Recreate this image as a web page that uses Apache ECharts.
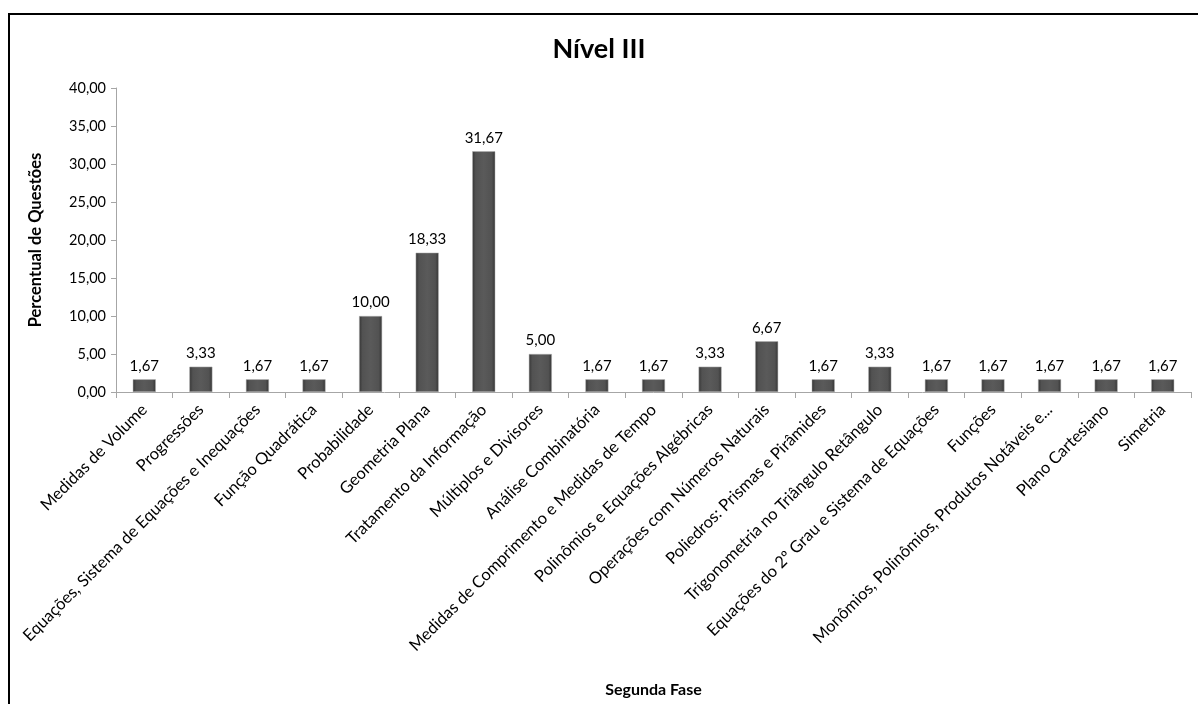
<!DOCTYPE html>
<html>
<head>
<meta charset="utf-8">
<script src="https://cdn.jsdelivr.net/npm/echarts@6/dist/echarts.min.js"></script>
<style>
  html, body { margin: 0; padding: 0; background: #fff; }
  #chart { width: 1198px; height: 704px; }
</style>
</head>
<body>
<div id="chart"></div>
<script>
// categories (Excel cut the long one with "...")
let categories = [
    'Medidas de Volume',
    'Progressões',
    'Equações, Sistema de Equações e Inequações',
    'Função Quadrática',
    'Probabilidade',
    'Geometria Plana',
    'Tratamento da Informação',
    'Múltiplos e Divisores',
    'Análise Combinatória',
    'Medidas de Comprimento e Medidas de Tempo',
    'Polinômios e Equações Algébricas',
    'Operações com Números Naturais',
    'Poliedros: Prismas e Pirâmides',
    'Trigonometria no Triângulo Retângulo',
    'Equações do 2º Grau e Sistema de Equações',
    'Funções',
    'Monômios, Polinômios, Produtos Notáveis e...',
    'Plano Cartesiano',
    'Simetria'
];
let percentual = [1.67, 3.33, 1.67, 1.67, 10.00, 18.33, 31.67, 5.00, 1.67, 1.67,
    3.33, 6.67, 1.67, 3.33, 1.67, 1.67, 1.67, 1.67, 1.67];
let yTicks = { min: 0, max: 40, step: 5 };

function fmt(v) {
    return Number(v).toFixed(2).replace('.', ',');
}

let font = 'Lato, "Open Sans", sans-serif';

let myChart = echarts.init(document.getElementById('chart'));

let option = {
    backgroundColor: '#fff',
    animation: false,
    title: {
        text: 'Nível III',
        left: 'center',
        top: 31,
        textStyle: { fontFamily: font, fontSize: 27, fontWeight: 'bold', color: '#000' }
    },
    graphic: [{
        type: 'rect',
        shape: { x: 9, y: 14, width: 1200, height: 700 },
        style: { fill: 'none', stroke: '#000', lineWidth: 2 },
        silent: true
    }],
    grid: { left: 116, right: 7, top: 88, bottom: 312 },
    xAxis: {
        type: 'category',
        data: categories,
        name: 'Segunda Fase',
        nameLocation: 'middle',
        nameGap: 290,
        nameTextStyle: { fontFamily: font, fontSize: 16, fontWeight: 'bold', color: '#000' },
        axisLine: { lineStyle: { color: '#a6a6a6' } },
        axisTick: { show: true, alignWithLabel: false, length: 6, lineStyle: { color: '#a6a6a6' } },
        axisLabel: {
            interval: 0,
            rotate: 45,
            margin: 15,
            fontFamily: font,
            fontSize: 16.5,
            color: '#000'
        },
        splitLine: { show: false }
    },
    yAxis: {
        type: 'value',
        min: yTicks.min,
        max: yTicks.max,
        interval: yTicks.step,
        name: 'Percentual de Questões',
        nameLocation: 'middle',
        nameGap: 72,
        nameRotate: 90,
        nameTextStyle: { fontFamily: font, fontSize: 16.5, fontWeight: 'bold', color: '#000' },
        axisLine: { show: true, lineStyle: { color: '#a6a6a6' } },
        axisTick: { show: true, length: 5, lineStyle: { color: '#a6a6a6' } },
        axisLabel: { fontFamily: font, fontSize: 14.5, color: '#000', margin: 10, formatter: fmt },
        splitLine: { show: false }
    },
    series: [{
        name: 'Percentual',
        type: 'bar',
        data: percentual,
        barWidth: 23,
        itemStyle: {
            color: new echarts.graphic.LinearGradient(0, 0, 1, 0, [
                { offset: 0, color: '#353535' },
                { offset: 0.15, color: '#525252' },
                { offset: 0.5, color: '#5a5a5a' },
                { offset: 0.85, color: '#525252' },
                { offset: 1, color: '#353535' }
            ]),
            borderColor: '#b0b0b0',
            borderWidth: 0.5
        },
        label: {
            show: true,
            position: 'top',
            distance: 6,
            fontFamily: font,
            fontSize: 15,
            color: '#000',
            formatter: function (p) { return fmt(p.value); }
        }
    }]
};

myChart.setOption(option);
</script>
</body>
</html>
